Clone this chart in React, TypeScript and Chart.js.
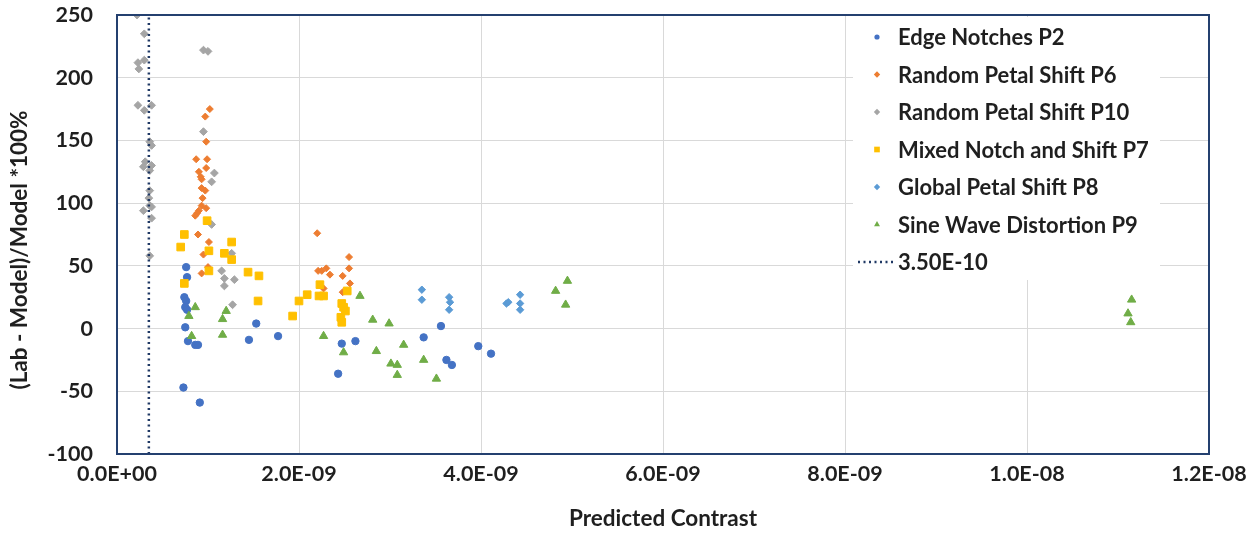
import { useEffect, useRef } from 'react';
import { Chart, registerables } from 'chart.js';
import { drawPoint } from 'chart.js/helpers';

Chart.register(...registerables);

// [predicted contrast, (lab - model)/model * 100%]
const edgeNotchesP2: [number, number][] = [
  [7.6e-10, 49], [7.7e-10, 41], [7.4e-10, 25], [7.6e-10, 22], [7.5e-10, 17], [7.7e-10, 15],
  [7.5e-10, 1], [7.8e-10, -10], [8.6e-10, -13], [8.9e-10, -13], [7.3e-10, -47], [9.1e-10, -59],
  [1.45e-9, -9], [1.53e-9, 4], [1.77e-9, -6], [2.43e-9, -36], [2.47e-9, -12], [2.62e-9, -10],
  [3.37e-9, -7], [3.56e-9, 2], [3.62e-9, -25], [3.68e-9, -29], [3.97e-9, -14], [4.11e-9, -20],
];

const randomPetalShiftP6: [number, number][] = [
  [1.02e-9, 175], [9.7e-10, 169], [9.8e-10, 149], [8.7e-10, 135], [9.9e-10, 135], [9.8e-10, 128],
  [9.0e-10, 125], [9.2e-10, 121], [9.3e-10, 119], [9.3e-10, 112], [9.7e-10, 110], [9.4e-10, 104],
  [9.3e-10, 98], [9.8e-10, 96], [9.0e-10, 94], [8.8e-10, 92], [8.6e-10, 90], [8.9e-10, 75],
  [1.01e-9, 69], [9.5e-10, 59], [1.0e-9, 49], [9.3e-10, 44],
  [2.2e-9, 76], [2.55e-9, 57], [2.55e-9, 48], [2.3e-9, 48], [2.21e-9, 46], [2.25e-9, 46],
  [2.34e-9, 43], [2.48e-9, 42], [2.56e-9, 36], [2.27e-9, 32], [2.48e-9, 29],
];

const randomPetalShiftP10: [number, number][] = [
  [2.2e-10, 250], [3.0e-10, 235], [9.5e-10, 222], [1.0e-9, 221], [2.3e-10, 212], [3.0e-10, 214],
  [2.4e-10, 207], [2.3e-10, 178], [3.0e-10, 174], [3.8e-10, 178], [9.5e-10, 157], [3.6e-10, 149],
  [3.8e-10, 146], [3.1e-10, 133], [2.9e-10, 129], [3.8e-10, 130], [3.6e-10, 126], [1.07e-9, 124],
  [1.04e-9, 117], [3.6e-10, 110], [3.5e-10, 104], [3.6e-10, 98], [3.8e-10, 97], [2.9e-10, 94],
  [3.8e-10, 88], [1.04e-9, 83], [1.26e-9, 60], [3.6e-10, 58], [1.15e-9, 46], [1.18e-9, 40],
  [1.29e-9, 39], [1.18e-9, 34], [1.27e-9, 19],
];

const mixedNotchShiftP7: [number, number][] = [
  [9.9e-10, 86], [7.4e-10, 75], [7.0e-10, 65], [1.01e-9, 62], [1.26e-9, 69], [1.18e-9, 60],
  [1.26e-9, 55], [1.01e-9, 46], [1.44e-9, 45], [7.4e-10, 36], [1.56e-9, 42], [1.55e-9, 22],
  [1.93e-9, 10], [2.0e-9, 22], [2.09e-9, 27], [2.23e-9, 35], [2.22e-9, 26], [2.27e-9, 26],
  [2.53e-9, 30], [2.47e-9, 20], [2.49e-9, 17], [2.51e-9, 14], [2.46e-9, 9], [2.47e-9, 5],
];

const globalPetalShiftP8: [number, number][] = [
  [3.35e-9, 31], [3.35e-9, 23], [3.65e-9, 25], [3.66e-9, 21], [3.65e-9, 15],
  [4.28e-9, 20], [4.3e-9, 21], [4.43e-9, 27], [4.43e-9, 20], [4.43e-9, 15],
];

const sineWaveDistortionP9: [number, number][] = [
  [8.6e-10, 17], [7.9e-10, 10], [1.2e-9, 14], [1.16e-9, 7.5], [8.2e-10, -6], [1.16e-9, -5],
  [2.67e-9, 26], [2.81e-9, 7], [2.99e-9, 4], [2.27e-9, -6], [2.49e-9, -19], [2.85e-9, -18],
  [3.01e-9, -28], [3.08e-9, -29], [3.08e-9, -37], [3.15e-9, -13], [3.37e-9, -25], [3.51e-9, -40],
  [4.82e-9, 30], [4.95e-9, 38], [4.93e-9, 19], [1.115e-8, 23], [1.111e-8, 12], [1.114e-8, 5],
];

// Contrast threshold marker
const thresholdContrast = 3.5e-10;
const thresholdLabel = '3.50E-10';

// Axis ranges
const xRange = [0, 1.2e-8];
const xStep = 2e-9;
const yRange = [-100, 250];
const yStep = 50;

const seriesNames = [
  'Edge Notches P2',
  'Random Petal Shift P6',
  'Random Petal Shift P10',
  'Mixed Notch and Shift P7',
  'Global Petal Shift P8',
  'Sine Wave Distortion P9',
];

const xTitle = 'Predicted Contrast';
const yTitle = '(Lab - Model)/Model *100%';

const FONT = 'Lato, "Noto Sans", sans-serif';
const TEXT = '#1f1f1f';

const toPoints = (pairs: [number, number][]) => pairs.map(([x, y]) => ({ x, y }));

const sciLabel = (v: number) => {
  const [m, e] = Number(v).toExponential(1).split('e');
  const sign = e.startsWith('-') ? '-' : '+';
  return `${m}E${sign}${e.replace(/^[+-]/, '').padStart(2, '0')}`;
};

// Inset legend, y-axis title and plot frame, drawn on top of the datasets
const frameAndLegend = {
  id: 'frameAndLegend',
  afterDraw(chart: any) {
    const { ctx, chartArea } = chart;
    ctx.save();

    // legend panel
    ctx.fillStyle = '#ffffff';
    ctx.fillRect(853, 17, 307, 263);

    const rowY0 = 37;
    const rowStep = 37.5;
    const markerX = 877;
    const textX = 898;
    ctx.font = `bold 22px ${FONT}`;
    ctx.textBaseline = 'middle';
    ctx.textAlign = 'left';

    chart.data.datasets.forEach((ds: any, i: number) => {
      const y = rowY0 + i * rowStep;
      if (ds.type === 'line') {
        ctx.save();
        ctx.strokeStyle = ds.borderColor;
        ctx.lineWidth = 2.5;
        ctx.setLineDash([2, 3.5]);
        ctx.beginPath();
        ctx.moveTo(858, y);
        ctx.lineTo(893, y);
        ctx.stroke();
        ctx.restore();
      } else {
        ctx.fillStyle = ds.backgroundColor;
        ctx.strokeStyle = ds.backgroundColor;
        drawPoint(ctx, {
          pointStyle: ds.pointStyle,
          radius: ds.legendRadius,
          rotation: 0,
          borderWidth: 0,
        } as any, markerX, y);
      }
      ctx.fillStyle = TEXT;
      ctx.fillText(ds.label, textX, y + 1);
    });

    // y-axis title
    ctx.save();
    ctx.translate(20, 250);
    ctx.rotate(-Math.PI / 2);
    ctx.textAlign = 'center';
    ctx.textBaseline = 'middle';
    ctx.font = `bold 22.5px ${FONT}`;
    ctx.fillStyle = TEXT;
    ctx.fillText(yTitle, 0, 0);
    ctx.restore();

    // plot frame
    ctx.strokeStyle = '#24406f';
    ctx.lineWidth = 2;
    ctx.setLineDash([]);
    ctx.strokeRect(chartArea.left, chartArea.top, chartArea.right - chartArea.left, chartArea.bottom - chartArea.top);
    ctx.restore();
  },
};

function scatterSet(label: string, pairs: [number, number][], color: string, pointStyle: string, radius: number, legendRadius: number, order: number) {
  return {
    type: 'scatter' as const,
    label,
    data: toPoints(pairs),
    backgroundColor: color,
    borderColor: color,
    pointStyle,
    pointRadius: radius,
    pointBorderWidth: 1,
    pointHoverRadius: radius,
    legendRadius,
    order,
  };
}

export default function App() {
  const canvasRef = useRef<HTMLCanvasElement | null>(null);

  useEffect(() => {
    let chart: Chart | null = null;
    let cancelled = false;

    const build = () => {
      if (cancelled || !canvasRef.current) return;
      chart = new Chart(canvasRef.current, {
        type: 'scatter',
        data: {
          datasets: [
            scatterSet(seriesNames[0], edgeNotchesP2, '#4472C4', 'circle', 3.7, 2.6, 7),
            scatterSet(seriesNames[1], randomPetalShiftP6, '#ED7D31', 'rectRot', 3.5, 3.2, 6),
            scatterSet(seriesNames[2], randomPetalShiftP10, '#A5A5A5', 'rectRot', 3.9, 3.2, 5),
            scatterSet(seriesNames[3], mixedNotchShiftP7, '#FFC000', 'rect', 5.4, 4.0, 4),
            scatterSet(seriesNames[4], globalPetalShiftP8, '#5B9BD5', 'rectRot', 3.7, 3.2, 3),
            scatterSet(seriesNames[5], sineWaveDistortionP9, '#70AD47', 'triangle', 4.8, 3.4, 2),
            {
              type: 'line' as const,
              label: thresholdLabel,
              data: yRange.map((y) => ({ x: thresholdContrast, y })),
              borderColor: '#1F3864',
              borderWidth: 2.5,
              borderDash: [2, 3.5],
              pointRadius: 0,
              fill: false,
              order: 1,
            } as any,
          ],
        },
        options: {
          animation: false,
          responsive: false,
          events: [],
          layout: { padding: { left: 0, top: 15, right: 48, bottom: 0 } },
          plugins: {
            legend: { display: false },
            tooltip: { enabled: false },
          },
          scales: {
            x: {
              type: 'linear',
              min: xRange[0],
              max: xRange[1],
              border: { display: false },
              grid: { color: '#d9d9d9', lineWidth: 1, drawTicks: false },
              ticks: {
                stepSize: xStep,
                padding: 7,
                maxRotation: 0,
                autoSkip: false,
                color: TEXT,
                font: { family: FONT, size: 21.5, weight: 'bold' },
                callback: (v: any) => sciLabel(Number(v)),
              },
              title: {
                display: true,
                text: xTitle,
                color: TEXT,
                font: { family: FONT, size: 22.5, weight: 'bold' },
                padding: { top: 4, bottom: 1 },
              },
              afterFit: (scale: any) => {
                scale.height = 79;
                scale.paddingLeft = 0;
                scale.paddingRight = 0;
              },
            },
            y: {
              type: 'linear',
              min: yRange[0],
              max: yRange[1],
              border: { display: false },
              grid: { color: '#d9d9d9', lineWidth: 1, drawTicks: false },
              ticks: {
                stepSize: yStep,
                padding: 24,
                color: TEXT,
                font: { family: FONT, size: 21.5, weight: 'bold' },
              },
              afterFit: (scale: any) => {
                scale.width = 117;
                scale.paddingTop = 0;
                scale.paddingBottom = 0;
              },
            },
          },
        },
        plugins: [frameAndLegend],
      } as any);
    };

    const fontsReady = (document as any).fonts?.load
      ? Promise.all([
          (document as any).fonts.load(`bold 21.5px Lato`),
          (document as any).fonts.load(`bold 22px Lato`),
        ]).catch(() => undefined)
      : Promise.resolve();
    fontsReady.then(build);

    return () => {
      cancelled = true;
      if (chart) chart.destroy();
    };
  }, []);

  return (
    <div style={{ position: 'absolute', left: 0, top: 0, width: 1257, height: 533, background: '#ffffff' }}>
      <canvas ref={canvasRef} width={1257} height={533} />
    </div>
  );
}
